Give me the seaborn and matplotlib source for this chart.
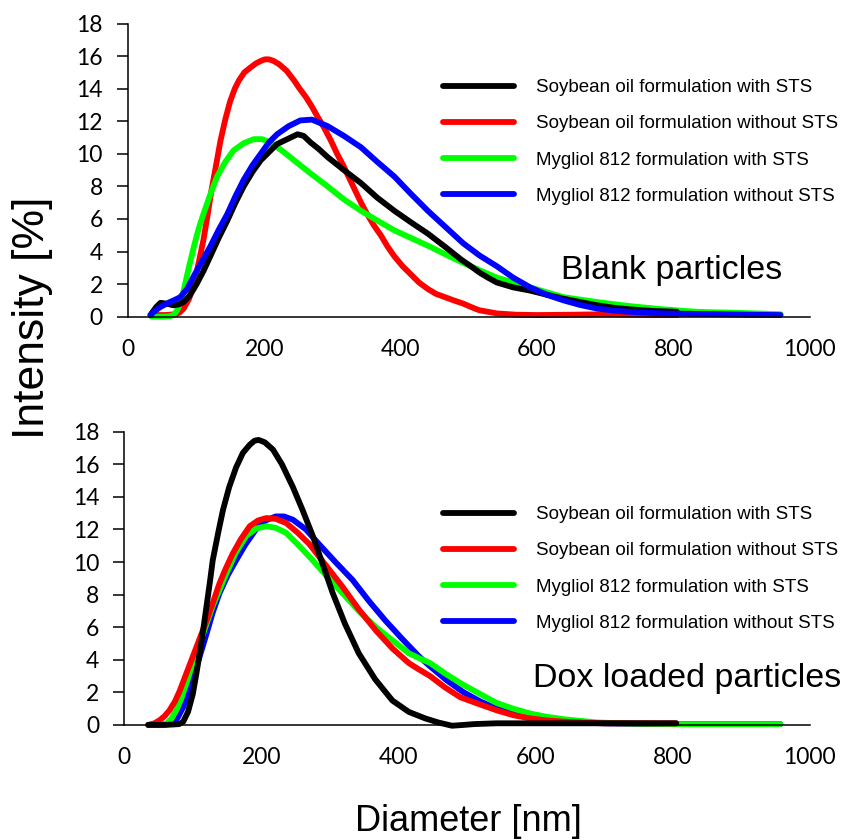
import pandas as pd
import matplotlib.pyplot as plt
import seaborn as sns

sns.set_style("white")
plt.rcParams['font.family'] = ['Liberation Sans', 'DejaVu Sans']
plt.rcParams['text.color'] = 'black'

labels = ["Soybean oil formulation with STS",
          "Soybean oil formulation without STS",
          "Mygliol 812 formulation with STS",
          "Mygliol 812 formulation without STS"]
colors = ["#000000", "#ff0000", "#00ff00", "#0000ff"]

# Blank particles
blank_soy_sts_x = [35, 42, 48, 57, 67, 75, 82, 91, 101, 111, 121, 133, 146, 158, 170, 183, 195, 207, 219, 234, 249, 258, 268, 280, 293, 317, 342, 366, 391, 415, 440, 465, 489, 503, 516, 528, 541, 565, 590, 614, 639, 663, 688, 712, 736, 770, 805]
blank_soy_sts_y = [0.2, 0.6, 0.85, 0.8, 0.7, 0.75, 0.9, 1.3, 2.0, 2.8, 3.7, 4.8, 5.9, 7.0, 8.0, 8.9, 9.6, 10.1, 10.6, 10.9, 11.2, 11.1, 10.7, 10.3, 9.8, 9.0, 8.2, 7.3, 6.5, 5.8, 5.1, 4.3, 3.5, 3.1, 2.7, 2.4, 2.1, 1.8, 1.6, 1.35, 1.1, 0.9, 0.7, 0.55, 0.45, 0.35, 0.3]

blank_soy_x = [35, 55, 70, 76, 82, 90, 97, 104, 111, 117, 123, 130, 136, 143, 150, 157, 163, 171, 180, 188, 195, 201, 207, 214, 222, 233, 244, 252, 261, 270, 278, 288, 298, 307, 317, 326, 334, 342, 351, 361, 371, 381, 391, 403, 415, 427, 440, 452, 465, 478, 492, 503, 515, 528, 541, 570, 600, 650, 700, 750, 805]
blank_soy_y = [0.1, 0.1, 0.15, 0.25, 0.5, 1.1, 2.0, 3.3, 4.7, 6.2, 7.8, 9.4, 10.8, 12.1, 13.2, 14.0, 14.5, 15.0, 15.3, 15.55, 15.7, 15.8, 15.8, 15.7, 15.5, 15.1, 14.5, 14.0, 13.5, 12.9, 12.3, 11.6, 10.8, 10.0, 9.2, 8.4, 7.7, 7.0, 6.3, 5.6, 5.0, 4.3, 3.7, 3.1, 2.6, 2.1, 1.7, 1.4, 1.2, 1.0, 0.8, 0.6, 0.4, 0.3, 0.2, 0.12, 0.1, 0.12, 0.15, 0.12, 0.1]

blank_myg_sts_x = [35, 55, 62, 67, 71, 75, 78, 82, 89, 97, 104, 111, 121, 131, 143, 155, 170, 185, 197, 209, 226, 244, 268, 293, 317, 342, 366, 391, 417, 443, 467, 492, 516, 541, 565, 590, 614, 639, 663, 688, 712, 736, 760, 785, 810, 834, 858, 883, 920, 957]
blank_myg_sts_y = [0, 0, 0.03, 0.1, 0.3, 0.6, 1.0, 1.6, 2.9, 4.3, 5.4, 6.3, 7.5, 8.6, 9.5, 10.2, 10.65, 10.9, 10.9, 10.7, 10.2, 9.6, 8.8, 8.0, 7.2, 6.5, 5.9, 5.3, 4.8, 4.3, 3.8, 3.3, 2.85, 2.4, 2.1, 1.8, 1.5, 1.2, 1.05, 0.9, 0.77, 0.65, 0.55, 0.45, 0.37, 0.3, 0.27, 0.25, 0.2, 0.15]

blank_myg_x = [33, 40, 48, 55, 62, 70, 77, 87, 97, 109, 121, 133, 146, 158, 170, 183, 195, 207, 219, 236, 253, 270, 293, 317, 342, 366, 391, 415, 440, 466, 492, 516, 541, 565, 590, 614, 639, 663, 688, 712, 736, 760, 785, 830, 870, 910, 957]
blank_myg_y = [0.1, 0.35, 0.6, 0.75, 0.9, 1.05, 1.2, 1.7, 2.5, 3.4, 4.3, 5.3, 6.3, 7.4, 8.4, 9.3, 10.0, 10.7, 11.2, 11.7, 12.05, 12.1, 11.7, 11.1, 10.4, 9.5, 8.6, 7.55, 6.5, 5.5, 4.5, 3.75, 3.1, 2.4, 1.8, 1.35, 1.0, 0.72, 0.5, 0.38, 0.3, 0.25, 0.2, 0.17, 0.15, 0.12, 0.1]

# Dox loaded particles
dox_soy_sts_x = [35, 60, 80, 86, 93, 100, 105, 110, 115, 120, 125, 129, 137, 144, 153, 163, 173, 183, 190, 196, 205, 217, 230, 246, 260, 275, 290, 304, 322, 342, 366, 391, 415, 439, 458, 478, 495, 510, 543, 650, 805]
dox_soy_sts_y = [0, 0, 0.05, 0.2, 0.8, 1.9, 3.1, 4.4, 5.8, 7.3, 8.8, 10.1, 11.8, 13.2, 14.6, 15.8, 16.7, 17.2, 17.45, 17.5, 17.35, 16.9, 16.0, 14.6, 13.2, 11.6, 9.8, 8.1, 6.2, 4.4, 2.8, 1.5, 0.8, 0.4, 0.15, -0.05, 0.0, 0.05, 0.1, 0.1, 0.1]

dox_soy_x = [35, 44, 52, 59, 66, 74, 81, 90, 100, 110, 120, 130, 139, 148, 158, 170, 183, 195, 207, 221, 236, 253, 270, 294, 318, 342, 367, 391, 415, 430, 446, 468, 490, 516, 543, 567, 592, 616, 641, 670, 700, 750, 805]
dox_soy_y = [0, 0.1, 0.3, 0.55, 0.9, 1.45, 2.1, 3.1, 4.2, 5.3, 6.4, 7.6, 8.7, 9.6, 10.5, 11.4, 12.2, 12.55, 12.7, 12.65, 12.4, 11.8, 11.1, 9.8, 8.5, 7.1, 5.8, 4.7, 3.8, 3.4, 3.0, 2.3, 1.7, 1.3, 0.9, 0.6, 0.4, 0.28, 0.2, 0.14, 0.1, 0.1, 0.1]

dox_myg_sts_x = [35, 55, 62, 69, 76, 83, 91, 100, 110, 120, 129, 139, 149, 163, 178, 192, 207, 221, 236, 255, 275, 296, 318, 342, 367, 391, 415, 430, 446, 470, 495, 519, 543, 567, 592, 616, 641, 665, 690, 740, 800, 880, 957]
dox_myg_sts_y = [0, 0.03, 0.1, 0.4, 0.9, 1.6, 2.6, 3.8, 5.0, 6.2, 7.3, 8.3, 9.3, 10.6, 11.6, 12.05, 12.2, 12.1, 11.8, 11.0, 10.1, 9.1, 8.1, 7.0, 6.0, 5.2, 4.4, 4.1, 3.8, 3.1, 2.45, 1.9, 1.35, 1.0, 0.7, 0.5, 0.35, 0.25, 0.15, 0.08, 0.05, 0.05, 0.05]

dox_myg_x = [35, 60, 71, 78, 86, 93, 100, 110, 120, 129, 139, 151, 163, 177, 192, 206, 221, 233, 246, 265, 284, 308, 333, 357, 381, 405, 430, 446, 470, 495, 519, 543, 567, 592, 616, 641, 670, 700, 750, 800, 880, 957]
dox_myg_y = [0, 0.03, 0.1, 0.45, 1.1, 1.9, 2.8, 4.2, 5.6, 6.9, 8.1, 9.2, 10.1, 11.1, 12.0, 12.55, 12.8, 12.8, 12.6, 12.0, 11.1, 10.0, 8.9, 7.6, 6.4, 5.3, 4.2, 3.6, 2.75, 2.0, 1.45, 1.0, 0.7, 0.45, 0.3, 0.2, 0.13, 0.1, 0.07, 0.05, 0.05, 0.05]

blank = [(blank_soy_sts_x, blank_soy_sts_y), (blank_soy_x, blank_soy_y),
         (blank_myg_sts_x, blank_myg_sts_y), (blank_myg_x, blank_myg_y)]
dox = [(dox_soy_sts_x, dox_soy_sts_y), (dox_soy_x, dox_soy_y),
       (dox_myg_sts_x, dox_myg_sts_y), (dox_myg_x, dox_myg_y)]

fig = plt.figure(figsize=(8.57, 8.4), dpi=100)
ax1 = fig.add_axes([0.149, 0.623, 0.796, 0.349])
ax2 = fig.add_axes([0.145, 0.137, 0.800, 0.349])


def draw(ax, series, order, leg_top, title, tx):
    handles = {}
    for i in order:
        x, y = series[i]
        df = pd.DataFrame({'Diameter': x, 'Intensity': y})
        sns.lineplot(data=df, x='Diameter', y='Intensity', ax=ax, color=colors[i],
                     linewidth=4.2, sort=False, estimator=None, label=labels[i])
        line = ax.lines[-1]
        line.set_clip_on(False)
        line.set_solid_joinstyle('round')
        line.set_solid_capstyle('round')
        handles[i] = line
    ax.set_xlim(0, 1000)
    ax.set_ylim(0, 18)
    ax.set_xticks(range(0, 1001, 200))
    ax.set_yticks(range(0, 19, 2))
    ax.set_xlabel('')
    ax.set_ylabel('')
    sns.despine(ax=ax)
    for s in ['left', 'bottom']:
        ax.spines[s].set_color('black')
        ax.spines[s].set_linewidth(1.1)
    ax.tick_params(axis='y', left=True, direction='out', length=8, width=1.1, pad=10,
                   labelsize=16.5, colors='black')
    ax.tick_params(axis='x', bottom=False, length=0, pad=16, labelsize=16.5, colors='black')
    for t in ax.get_xticklabels() + ax.get_yticklabels():
        t.set_fontfamily('Lato')
    ax.legend([handles[i] for i in range(4)], labels, loc='upper left',
              bbox_to_anchor=(443 / 857, leg_top), bbox_transform=fig.transFigure,
              frameon=False, fontsize=13.5, handlelength=3.8, handletextpad=1.15,
              labelspacing=1.02, borderpad=0, borderaxespad=0)
    ax.text(tx, 0.13, title, transform=ax.transAxes, fontsize=24.5, va='baseline', ha='left')


draw(ax1, blank, [1, 2, 0, 3], 1 - 79 / 840, 'Blank particles', 0.635)
draw(ax2, dox, [3, 2, 1, 0], 1 - 506 / 840, 'Dox loaded particles', 0.596)

fig.text(33 / 857, 0.622, 'Intensity [%]', rotation=90, fontsize=32, va='center', ha='center')
fig.text(468 / 857, 1 - 831 / 840, 'Diameter [nm]', fontsize=26, va='baseline', ha='center')

fig.savefig('out.png', dpi=100)
